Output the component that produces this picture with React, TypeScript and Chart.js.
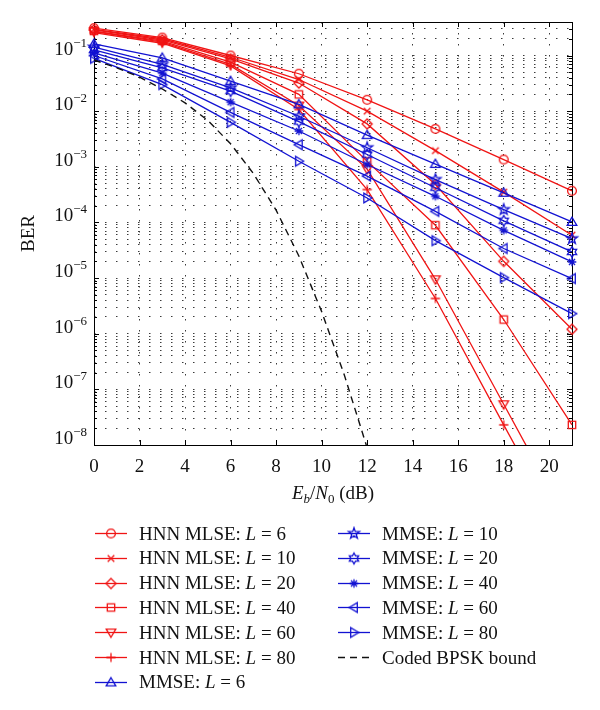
import React, { useEffect, useRef } from 'react';
import { Chart, registerables } from 'chart.js';

Chart.register(...registerables);

// ---------- data ----------
const EBN0_DB = [0, 3, 6, 9, 12, 15, 18, 21];

const HNN_L6 = [0.31, 0.21, 0.1, 0.047, 0.016, 4.8e-3, 1.35e-3, 3.7e-4];
const HNN_L10 = [0.295, 0.2, 0.093, 0.037, 0.01, 1.95e-3, 3.5e-4, 5.9e-5];
const HNN_L20 = [0.288, 0.19, 0.087, 0.032, 5.9e-3, 4.8e-4, 2.0e-5, 1.2e-6];
const HNN_L40 = [0.275, 0.182, 0.076, 0.02, 1.25e-3, 8.9e-5, 1.8e-6, 2.3e-8];
const HNN_L60 = [0.27, 0.174, 0.069, 0.0126, 9.1e-4, 9.5e-6, 5.4e-8, 3e-10];
const HNN_L80 = [0.257, 0.166, 0.065, 0.0107, 3.9e-4, 4.3e-6, 2.3e-8, 1.3e-10];

const MMSE_L6 = [0.162, 0.091, 0.0347, 0.0132, 3.7e-3, 1.12e-3, 3.4e-4, 1.02e-4];
const MMSE_L10 = [0.141, 0.069, 0.0263, 8.1e-3, 2.2e-3, 5.9e-4, 1.7e-4, 5.1e-5];
const MMSE_L20 = [0.126, 0.06, 0.0229, 6.5e-3, 1.66e-3, 4.2e-4, 1.07e-4, 2.95e-5];
const MMSE_L40 = [0.112, 0.048, 0.0145, 4.4e-3, 1.1e-3, 2.95e-4, 7.2e-5, 1.95e-5];
const MMSE_L60 = [0.1, 0.038, 9.5e-3, 2.5e-3, 6.8e-4, 1.58e-4, 3.4e-5, 9.8e-6];
const MMSE_L80 = [0.089, 0.03, 6.3e-3, 1.26e-3, 2.75e-4, 4.7e-5, 1.02e-5, 2.3e-6];

const BOUND_EBN0 = [0, 1, 2, 3, 4, 5, 6, 7, 8, 9, 10, 11, 12];
const BOUND_BER = [0.083, 0.06, 0.041, 0.025, 0.0141, 6.8e-3, 2.6e-3, 7.6e-4, 1.66e-4, 2.5e-5, 2.5e-6, 1.8e-7, 8.9e-9];

const X_TICKS = [0, 2, 4, 6, 8, 10, 12, 14, 16, 18, 20];
const Y_DECADES = [-8, -7, -6, -5, -4, -3, -2, -1];
const Y_MIN = 1e-8;
const Y_MAX = 0.4;
const X_MIN = 0;
const X_MAX = 21;

const RED = '#f01414';
const BLUE = '#1212d2';
const FONT = '"Liberation Serif", "Times New Roman", serif';

type Series = { name: string; L: string; color: string; marker: string; data: number[] };
const SERIES: Series[] = [
  { name: 'HNN MLSE: ', L: '6', color: RED, marker: 'circle', data: HNN_L6 },
  { name: 'HNN MLSE: ', L: '10', color: RED, marker: 'x', data: HNN_L10 },
  { name: 'HNN MLSE: ', L: '20', color: RED, marker: 'diamond', data: HNN_L20 },
  { name: 'HNN MLSE: ', L: '40', color: RED, marker: 'square', data: HNN_L40 },
  { name: 'HNN MLSE: ', L: '60', color: RED, marker: 'tri-down', data: HNN_L60 },
  { name: 'HNN MLSE: ', L: '80', color: RED, marker: 'plus', data: HNN_L80 },
  { name: 'MMSE: ', L: '6', color: BLUE, marker: 'tri-up', data: MMSE_L6 },
  { name: 'MMSE: ', L: '10', color: BLUE, marker: 'pentagram', data: MMSE_L10 },
  { name: 'MMSE: ', L: '20', color: BLUE, marker: 'hexagram', data: MMSE_L20 },
  { name: 'MMSE: ', L: '40', color: BLUE, marker: 'asterisk', data: MMSE_L40 },
  { name: 'MMSE: ', L: '60', color: BLUE, marker: 'tri-left', data: MMSE_L60 },
  { name: 'MMSE: ', L: '80', color: BLUE, marker: 'tri-right', data: MMSE_L80 },
];
const BOUND_LABEL = 'Coded BPSK bound';

// ---------- helpers ----------
function yTickList(): { v: number; major: boolean }[] {
  const out: { v: number; major: boolean }[] = [];
  Y_DECADES.forEach((d) => {
    for (let m = 1; m <= 9; m++) {
      const v = m * Math.pow(10, d);
      if (v <= Y_MAX * 1.0001) out.push({ v, major: m === 1 });
    }
  });
  return out;
}

function makeMarker(kind: string, color: string): HTMLCanvasElement {
  const S = 16;
  const c = document.createElement('canvas');
  c.width = S;
  c.height = S;
  const g = c.getContext('2d')!;
  g.translate(S / 2, S / 2);
  g.strokeStyle = color;
  g.lineWidth = 1.3;
  g.beginPath();
  const poly = (pts: number[][]) => {
    pts.forEach(([px, py], k) => (k ? g.lineTo(px, py) : g.moveTo(px, py)));
    g.closePath();
  };
  const star = (n: number, ro: number, ri: number) => {
    const pts: number[][] = [];
    for (let k = 0; k < 2 * n; k++) {
      const a = -Math.PI / 2 + (k * Math.PI) / n;
      const r = k % 2 ? ri : ro;
      pts.push([r * Math.cos(a), r * Math.sin(a)]);
    }
    poly(pts);
  };
  switch (kind) {
    case 'circle':
      g.arc(0, 0, 4.4, 0, Math.PI * 2);
      break;
    case 'x': {
      const r = 3.3;
      g.moveTo(-r, -r); g.lineTo(r, r); g.moveTo(-r, r); g.lineTo(r, -r);
      break;
    }
    case 'diamond': {
      const r = 5;
      poly([[0, -r], [r, 0], [0, r], [-r, 0]]);
      break;
    }
    case 'square': {
      const h = 3.7;
      g.rect(-h, -h, 2 * h, 2 * h);
      break;
    }
    case 'tri-down':
      poly([[0, 4.8], [-4.8, -3.3], [4.8, -3.3]]);
      break;
    case 'tri-up':
      poly([[0, -4.8], [-4.8, 3.3], [4.8, 3.3]]);
      break;
    case 'tri-left':
      poly([[-4.8, 0], [3.3, -4.8], [3.3, 4.8]]);
      break;
    case 'tri-right':
      poly([[4.8, 0], [-3.3, -4.8], [-3.3, 4.8]]);
      break;
    case 'plus': {
      const r = 4.6;
      g.moveTo(-r, 0); g.lineTo(r, 0); g.moveTo(0, -r); g.lineTo(0, r);
      break;
    }
    case 'pentagram':
      star(5, 5.8, 2.3);
      break;
    case 'hexagram':
      star(6, 5.4, 3.1);
      break;
    case 'asterisk': {
      const r = 4.3, d = r * 0.707;
      g.moveTo(-r, 0); g.lineTo(r, 0); g.moveTo(0, -r); g.lineTo(0, r);
      g.moveTo(-d, -d); g.lineTo(d, d); g.moveTo(-d, d); g.lineTo(d, -d);
      break;
    }
  }
  g.stroke();
  return c;
}

type Part = { t: string; it?: boolean; sz?: number; dy?: number };
function fontOf(p: Part, base: number) {
  return `${p.it ? 'italic ' : ''}${p.sz || base}px ${FONT}`;
}
function richWidth(ctx: CanvasRenderingContext2D, parts: Part[], base: number) {
  let w = 0;
  parts.forEach((p) => {
    ctx.font = fontOf(p, base);
    w += ctx.measureText(p.t).width;
  });
  return w;
}
function drawRich(ctx: CanvasRenderingContext2D, parts: Part[], x: number, y: number, base: number) {
  let cx = x;
  parts.forEach((p) => {
    ctx.font = fontOf(p, base);
    ctx.fillText(p.t, cx, y + (p.dy || 0));
    cx += ctx.measureText(p.t).width;
  });
}

// ---------- component ----------
export default function App() {
  const ref = useRef<HTMLCanvasElement>(null);

  useEffect(() => {
    const canvas = ref.current!;
    const markers = SERIES.map((s) => makeMarker(s.marker, s.color));
    const yTicks = yTickList();

    const datasets: any[] = SERIES.map((s, i) => ({
      label: s.name + 'L = ' + s.L,
      data: EBN0_DB.map((x, j) => ({ x, y: s.data[j] })),
      borderColor: s.color,
      backgroundColor: 'rgba(0,0,0,0)',
      borderWidth: 1.3,
      pointStyle: markers[i],
      pointRadius: 5,
      pointHoverRadius: 5,
      showLine: true,
      fill: false,
      tension: 0,
      order: SERIES.length + 1 - i,
      clip: { left: 10, right: 10, top: 10, bottom: 0 },
    }));
    datasets.push({
      label: BOUND_LABEL,
      data: BOUND_EBN0.map((x, j) => ({ x, y: BOUND_BER[j] })),
      borderColor: '#111',
      borderWidth: 1.4,
      borderDash: [7, 5],
      pointRadius: 0,
      showLine: true,
      fill: false,
      tension: 0,
      order: 0,
      clip: { left: 10, right: 10, top: 10, bottom: 0 },
    });

    const decor = {
      id: 'decor',
      beforeDatasetsDraw(chart: any) {
        const { ctx, chartArea: a, scales } = chart;
        const xs = scales.x, ys = scales.y;
        ctx.save();
        ctx.setLineDash([]);
        ctx.strokeStyle = '#000';
        ctx.lineWidth = 1;
        ctx.beginPath();
        X_TICKS.forEach((v) => {
          const px = Math.round(xs.getPixelForValue(v)) + 0.5;
          ctx.moveTo(px, a.bottom); ctx.lineTo(px, a.bottom - 5);
          ctx.moveTo(px, a.top); ctx.lineTo(px, a.top + 5);
        });
        yTicks.forEach(({ v, major }) => {
          const len = major ? 5 : 3;
          const py = Math.round(ys.getPixelForValue(v)) + 0.5;
          ctx.moveTo(a.left, py); ctx.lineTo(a.left + len, py);
          ctx.moveTo(a.right, py); ctx.lineTo(a.right - len, py);
        });
        ctx.stroke();
        ctx.strokeRect(Math.round(a.left) + 0.5, Math.round(a.top) + 0.5,
          Math.round(a.right - a.left), Math.round(a.bottom - a.top));
        ctx.restore();
      },
      afterDraw(chart: any) {
        const { ctx, chartArea: a, scales } = chart;
        const xs = scales.x, ys = scales.y;
        ctx.save();
        ctx.fillStyle = '#111';
        ctx.textBaseline = 'alphabetic';
        // x tick labels
        ctx.font = `19px ${FONT}`;
        ctx.textAlign = 'center';
        X_TICKS.forEach((v) => {
          ctx.fillText(String(v), xs.getPixelForValue(v), a.bottom + 27);
        });
        ctx.textAlign = 'left';
        // y tick labels 10^k
        Y_DECADES.forEach((d) => {
          const py = ys.getPixelForValue(Math.pow(10, d));
          const parts: Part[] = [{ t: '10' }, { t: '\u2212' + Math.abs(d), sz: 13, dy: -8 }];
          const w = richWidth(ctx, parts, 19);
          drawRich(ctx, parts, 87 - w, py - 1, 19);
        });
        // x title
        const xt: Part[] = [
          { t: 'E', it: true }, { t: 'b', it: true, sz: 13, dy: 4 }, { t: '/' },
          { t: 'N', it: true }, { t: '0', sz: 13, dy: 4 }, { t: ' (dB)' },
        ];
        const xw = richWidth(ctx, xt, 19);
        drawRich(ctx, xt, (a.left + a.right) / 2 - xw / 2, 499, 19);
        // y title
        ctx.save();
        ctx.translate(34, (a.top + a.bottom) / 2);
        ctx.rotate(-Math.PI / 2);
        ctx.font = `19px ${FONT}`;
        ctx.textAlign = 'center';
        ctx.fillText('BER', 0, 0);
        ctx.restore();

        // legend
        const rowY = (r: number) => 533 + r * 24.8;
        const cols = [{ x0: 95, x1: 127, tx: 139 }, { x0: 338, x1: 370, tx: 382 }];
        const entries: { series?: number }[] = [];
        SERIES.forEach((_, i) => entries.push({ series: i }));
        entries.push({});
        entries.forEach((e, k) => {
          const col = k < 7 ? cols[0] : cols[1];
          const r = k < 7 ? k : k - 7;
          const y = rowY(r);
          ctx.save();
          ctx.lineWidth = e.series === undefined ? 1.4 : 1.3;
          ctx.strokeStyle = e.series === undefined ? '#111' : SERIES[e.series].color;
          ctx.setLineDash(e.series === undefined ? [7, 5] : []);
          ctx.beginPath();
          ctx.moveTo(col.x0, Math.round(y) + 0.5);
          ctx.lineTo(col.x1, Math.round(y) + 0.5);
          ctx.stroke();
          ctx.restore();
          if (e.series !== undefined) {
            const m = markers[e.series];
            ctx.drawImage(m, (col.x0 + col.x1) / 2 - m.width / 2, Math.round(y) + 0.5 - m.height / 2);
            const s = SERIES[e.series];
            drawRich(ctx, [{ t: s.name }, { t: 'L', it: true }, { t: ' = ' + s.L }], col.tx, y + 6.5, 19);
          } else {
            drawRich(ctx, [{ t: BOUND_LABEL }], col.tx, y + 6.5, 19);
          }
        });
        ctx.restore();
      },
    };

    const chart = new Chart(canvas, {
      type: 'line',
      data: { datasets },
      options: {
        responsive: false,
        maintainAspectRatio: false,
        devicePixelRatio: 1,
        animation: false,
        events: [],
        layout: { padding: { left: 0, top: 22, right: 28, bottom: 0 }, autoPadding: false },
        plugins: { legend: { display: false }, tooltip: { enabled: false }, title: { display: false } },
        scales: {
          x: {
            type: 'linear',
            min: X_MIN,
            max: X_MAX,
            afterBuildTicks: (s: any) => { s.ticks = X_TICKS.map((v) => ({ value: v })); },
            afterFit: (s: any) => { s.height = 710 - 445; },
            ticks: { display: false },
            grid: { color: '#3a3a3a', lineWidth: 1, drawTicks: false },
            border: { display: false, dash: [1.5, 9.5] },
          },
          y: {
            type: 'logarithmic',
            min: Y_MIN,
            max: Y_MAX,
            afterBuildTicks: (s: any) => { s.ticks = yTicks.map((t) => ({ value: t.v, major: t.major })); },
            afterFit: (s: any) => { s.width = 94; },
            ticks: { display: false },
            grid: { color: '#3a3a3a', lineWidth: 1, drawTicks: false },
            border: { display: false, dash: [1.5, 9.5] },
          },
        },
      } as any,
      plugins: [decor],
    });
    return () => chart.destroy();
  }, []);

  return (
    <div style={{ position: 'fixed', left: 0, top: 0, width: 600, height: 710, background: '#fff' }}>
      <canvas ref={ref} width={600} height={710} style={{ width: 600, height: 710, display: 'block' }} />
    </div>
  );
}
